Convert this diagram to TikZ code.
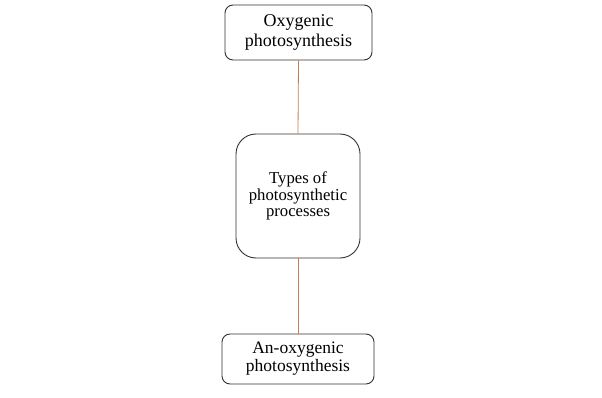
\documentclass[tikz,border=0pt]{standalone}
\usepackage{fontspec}
\setmainfont{Liberation Serif}
\definecolor{linkc}{RGB}{200,125,80}
\definecolor{boxc}{RGB}{50,50,50}
\begin{document}
\begin{tikzpicture}[x=1pt,y=1pt,
  boxstyle/.style={draw=boxc, line width=0.9pt, fill=white, align=center, inner sep=0pt},
  topbox/.style={boxstyle, rounded corners=8pt, font=\fontsize{18}{20}\selectfont},
  botbox/.style={boxstyle, rounded corners=8pt, font=\fontsize{17.5}{18}\selectfont},
  bigbox/.style={boxstyle, rounded corners=20pt, font=\fontsize{16.7}{16.5}\selectfont},
  link/.style={draw=linkc, line width=0.8pt}]
\useasboundingbox (0,0) rectangle (602,397);
\node[topbox, minimum width=147pt, minimum height=55pt] (top) at (298.5,364.5) {Oxygenic\\photosynthesis};
\node[bigbox, minimum width=124pt, minimum height=124pt] (mid) at (298,201) {Types of\\photosynthetic\\processes};
\node[botbox, minimum width=152pt, minimum height=50pt] (bot) at (298,38) {An-oxygenic\\photosynthesis};
\draw[link] (top.south) -- (mid.north);
\draw[link] (mid.south) -- (bot.north);
\end{tikzpicture}
\end{document}
